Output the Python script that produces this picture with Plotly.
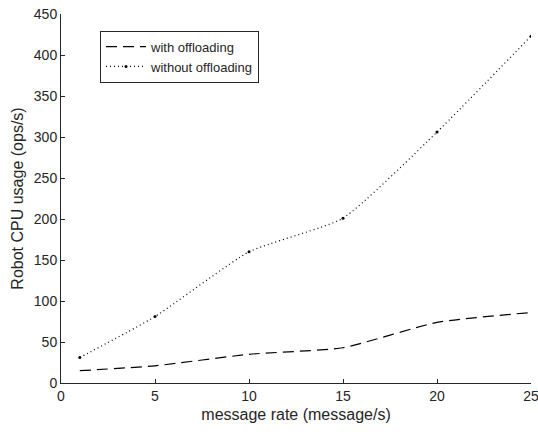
import plotly.graph_objects as go

rate = [1, 5, 10, 15, 20, 25]
with_off = [15, 21, 35, 43, 74, 86]
without_off = [31, 81, 160, 201, 306, 423]

x_ticks = [0, 5, 10, 15, 20, 25]
y_ticks = [0, 50, 100, 150, 200, 250, 300, 350, 400, 450]

fig = go.Figure()
fig.add_trace(go.Scatter(
    x=rate, y=with_off, mode="lines", name="with offloading",
    line=dict(color="black", width=1.2, dash="11px,6px", shape="spline", smoothing=0.5),
))
fig.add_trace(go.Scatter(
    x=rate, y=without_off, mode="lines+markers", name="without offloading",
    line=dict(color="black", width=1.2, dash="1px,3px", shape="spline", smoothing=0.5),
    marker=dict(size=3, color="black"),
))

font_family = "Liberation Sans, Arial, sans-serif"
fig.update_layout(
    width=538, height=432,
    margin=dict(l=61, r=7, t=14, b=49),
    paper_bgcolor="white", plot_bgcolor="white",
    font=dict(family=font_family, size=14, color="#262626"),
    showlegend=True,
    legend=dict(
        x=0.083, y=0.955, xanchor="left", yanchor="top",
        bordercolor="#262626", borderwidth=1, bgcolor="white",
        font=dict(size=13, color="#262626"),
        tracegroupgap=0, itemwidth=40,
    ),
    xaxis=dict(
        range=[0, 25], tickvals=x_ticks, ticks="inside", ticklen=4,
        ticklabeloverflow="allow", automargin=False,
        showgrid=False, zeroline=False, showline=True, linecolor="#262626", linewidth=1,
        tickcolor="#262626",
        title=dict(text="message rate (message/s)", font=dict(size=16), standoff=6),
    ),
    yaxis=dict(
        range=[0, 450], tickvals=y_ticks, ticks="inside", ticklen=4,
        ticklabeloverflow="allow", automargin=False,
        showgrid=False, zeroline=False, showline=True, linecolor="#262626", linewidth=1,
        tickcolor="#262626",
        title=dict(text="Robot CPU usage (ops/s)", font=dict(size=16), standoff=6),
    ),
)

fig.write_html("out.html")
